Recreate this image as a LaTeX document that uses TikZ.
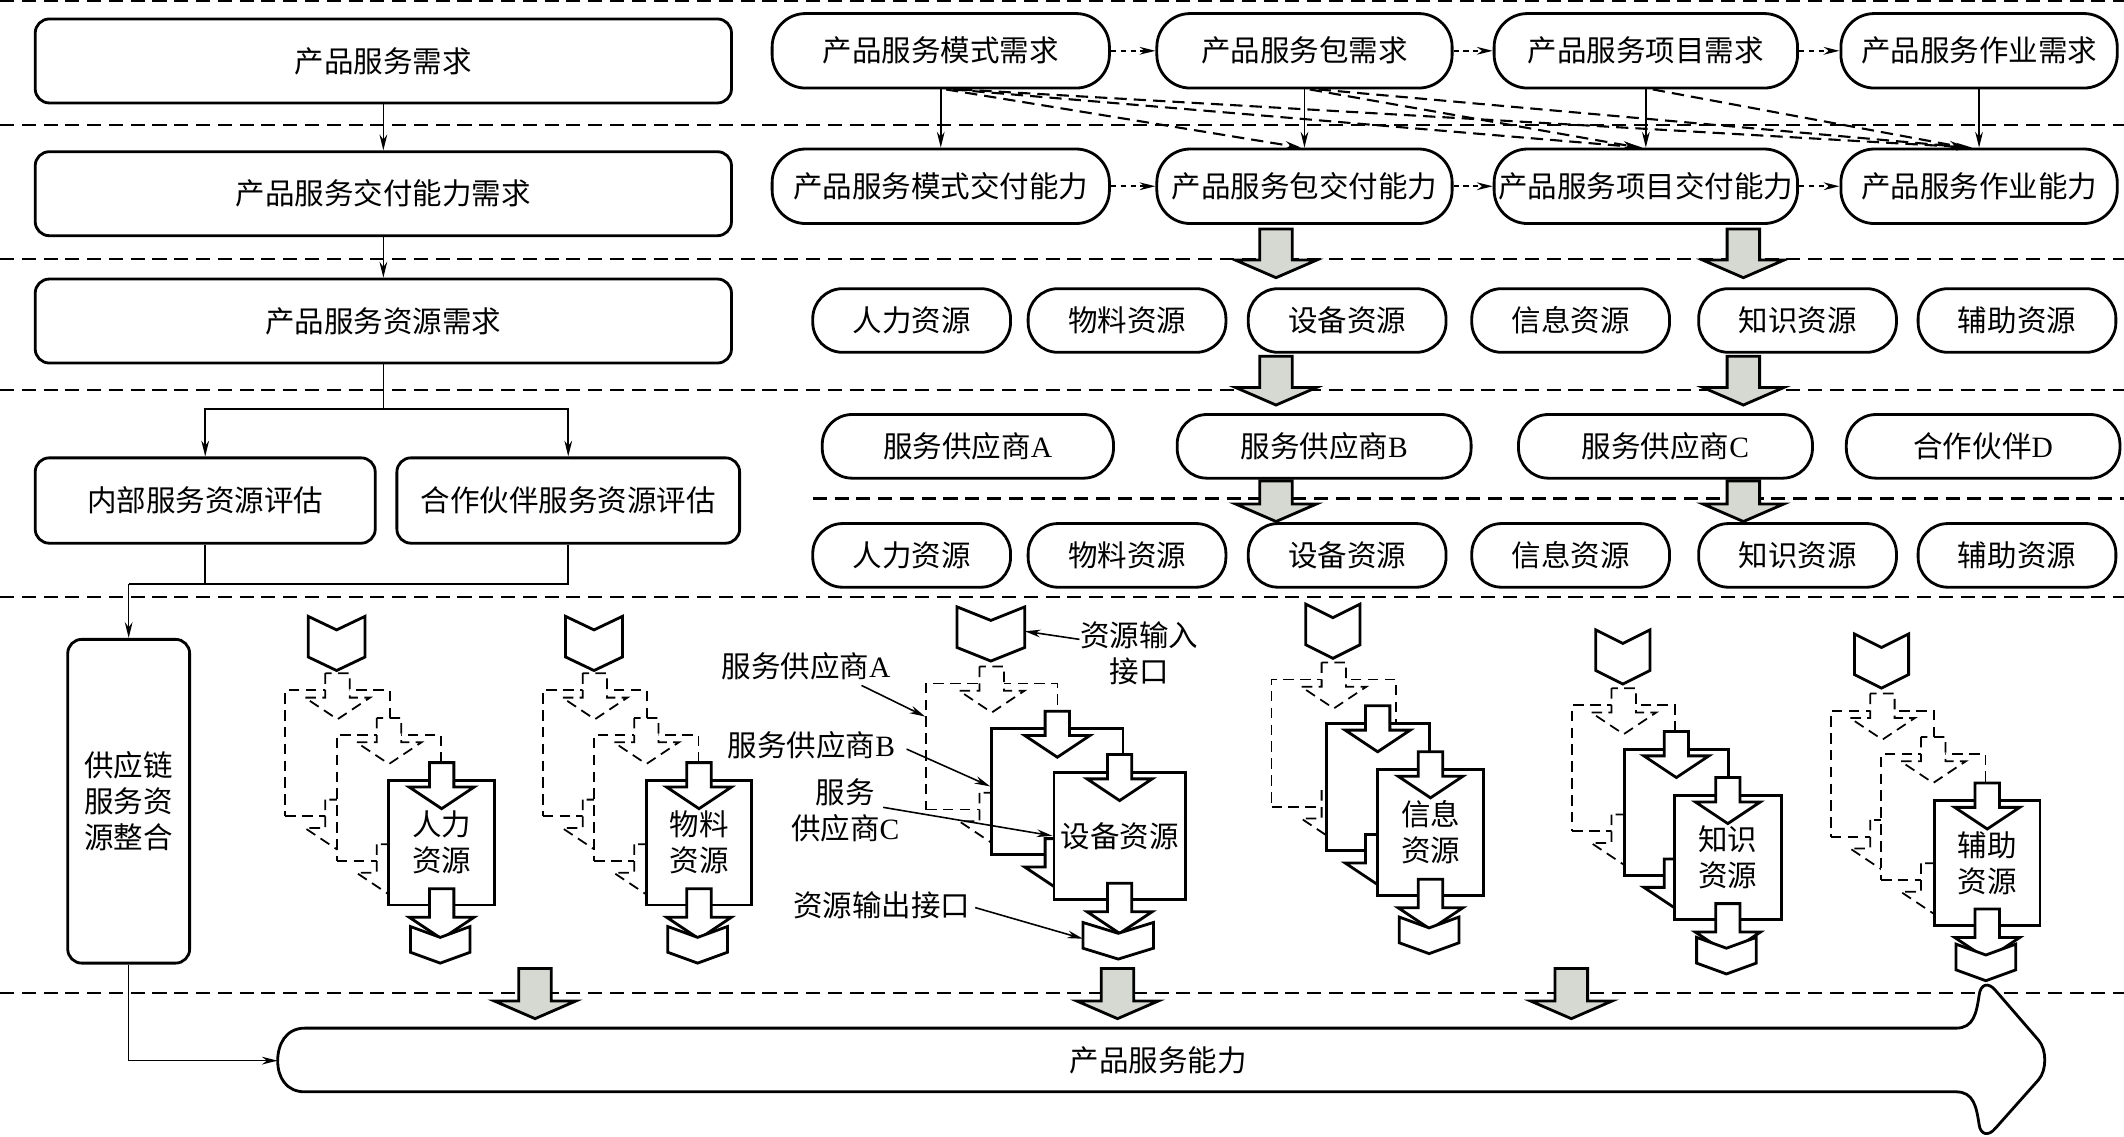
\documentclass[tikz,border=0pt]{standalone}
\usepackage{fontspec}
\setmainfont{Liberation Serif}
\newfontfamily\cjk{Noto Sans CJK SC}
\usetikzlibrary{arrows.meta,calc}
\newdimen\px \px=0.013546cm
\definecolor{BlockGray}{RGB}{214,217,209}
\newcommand\lat[1]{{\rmfamily #1}}

% small block arrow in and out of a resource sheet
\newcommand\docarrow[3][]{\draw[fill=white,#1] (#2) +(-9,0) -- +(-9,#3) -- +(-24,#3) -- +(0,#3+16) -- +(24,#3) -- +(9,#3) -- +(9,0) -- cycle;}
% one resource sheet: name, style, left, top, width, height, text
\newcommand\resdoc[7]{%
  \node[docbox,#2,minimum width=#5\px,minimum height=#6\px,anchor=north west] (#1) at (#3,#4) {#7};
  \docarrow[#2]{[shift={(0,-12)}]#1.north}{18}
  \docarrow[#2]{[shift={(0,-13)}]#1.south}{21}}
% input / output interfaces
\newcommand\chevin[4]{%
  \draw[chev] (#2-#4,#3) -- (#2,#3+10) -- (#2+#4,#3) -- (#2+#4,#3+30) -- (#2,#3+40) -- (#2-#4,#3+30) -- cycle;
  \coordinate (#1) at (#2+#4,#3+18);}
\newcommand\chevout[4]{%
  \draw[chev] (#2-#4,#3) -- (#2,#3+8) -- (#2+#4,#3) -- (#2+#4,#3+19) -- (#2,#3+27) -- (#2-#4,#3+19) -- cycle;
  \coordinate (#1) at (#2-#4,#3+12);}
% grey flow arrow
\newcommand\grayarrow[3]{\draw[garrow] (#1-12,#2) -- (#1-12,#2+#3-13) -- (#1-30,#2+#3-13) -- (#1,#2+#3) -- (#1+30,#2+#3-13) -- (#1+12,#2+#3-13) -- (#1+12,#2) -- cycle;}

\begin{document}
\begin{tikzpicture}[x=0.013546cm, y=-0.013546cm,
  every node/.style={font=\cjk\fontsize{8.4}{10.2}\selectfont, inner sep=0pt, align=center},
  box/.style={draw, line width=0.8pt, rounded corners=4pt},
  pill/.style={draw, line width=0.8pt, rounded corners=9.5pt, minimum height=55\px},
  respill/.style={draw, line width=0.8pt, rounded corners=8.5pt, minimum width=146\px, minimum height=47\px},
  supp/.style={draw, line width=0.8pt, rounded corners=8.5pt, minimum height=47\px},
  docbox/.style={draw, fill=white},
  soliddoc/.style={line width=0.8pt},
  dashdoc/.style={line width=0.5pt, dash pattern=on 3pt off 1.8pt},
  chev/.style={fill=white, line width=0.8pt, line join=miter},
  garrow/.style={fill=BlockGray, line width=0.8pt},
  sepline/.style={line width=0.6pt, dash pattern=on 4pt off 2.2pt},
  link/.style={line width=0.45pt, -{Stealth[length=4.5pt,width=2.2pt]}},
  dlink/.style={link, line width=0.6pt, dash pattern=on 3.5pt off 2pt},
  rowlink/.style={link, line width=0.6pt, dash pattern=on 1.5pt off 1.3pt}]
  \useasboundingbox (0,0) rectangle (1568,839);

  % layer lines
  \foreach \y in {1,92,191,288,441,733}
    \draw[sepline] (0,\y) -- (1568,\y);
  \draw[sepline] (600,368) -- (1568,368);

  % left column
  \node[box, minimum width=514\px, minimum height=62\px] (lreq) at (283,45) {产品服务需求};
  \node[box, minimum width=514\px, minimum height=62\px] (ldel) at (283,143) {产品服务交付能力需求};
  \node[box, minimum width=514\px, minimum height=62\px] (lres) at (283,237) {产品服务资源需求};
  \node[box, minimum width=251\px, minimum height=63\px] (linn) at (151.5,369.5) {内部服务资源评估};
  \node[box, minimum width=253\px, minimum height=63\px] (lpar) at (419.5,369.5) {合作伙伴服务资源评估};
  \node[box, minimum width=90\px, minimum height=239\px] (lsc) at (95,591.5) {供应链\\服务资\\源整合};

  \draw[link] (lreq) -- (ldel);
  \draw[link] (ldel) -- (lres);
  \coordinate (lsplit) at (283,302);
  \draw[line width=0.45pt] (lres.south) -- (lsplit);
  \draw[link] (lsplit) -| (linn.north);
  \draw[link] (lsplit) -| (lpar.north);
  \coordinate (lmerge) at (95,431);
  \draw[line width=0.45pt] (linn.south) |- (lmerge);
  \draw[line width=0.45pt] (lpar.south) |- (lmerge);
  \draw[link] (lmerge) -- (lsc.north);

  % demand and capability rows
  \node[pill, minimum width=249\px] (rmode) at (694.5,37.5) {产品服务模式需求};
  \node[pill, minimum width=218\px] (rpack) at (963,37.5) {产品服务包需求};
  \node[pill, minimum width=224\px] (rproj) at (1215,37.5) {产品服务项目需求};
  \node[pill, minimum width=204\px] (rtask) at (1461,37.5) {产品服务作业需求};
  \node[pill, minimum width=249\px] (cmode) at (694.5,137.5) {产品服务模式交付能力};
  \node[pill, minimum width=218\px] (cpack) at (963,137.5) {产品服务包交付能力};
  \node[pill, minimum width=224\px] (cproj) at (1215,137.5) {产品服务项目交付能力};
  \node[pill, minimum width=204\px] (ctask) at (1461,137.5) {产品服务作业能力};

  \draw[rowlink] (rmode) -- (rpack);
  \draw[rowlink] (rpack) -- (rproj);
  \draw[rowlink] (rproj) -- (rtask);
  \draw[rowlink] (cmode) -- (cpack);
  \draw[rowlink] (cpack) -- (cproj);
  \draw[rowlink] (cproj) -- (ctask);
  \draw[link] (rmode) -- (cmode);
  \draw[link] (rpack) -- (cpack);
  \draw[link] (rproj) -- (cproj);
  \draw[link] (rtask) -- (ctask);
  \draw[dlink] ([xshift=1.5pt]rmode.south) -- ([xshift=-1pt]cpack.north);
  \draw[dlink] ([xshift=3.5pt]rmode.south) -- ([xshift=-1pt]cproj.north);
  \draw[dlink] ([xshift=5.5pt]rmode.south) -- ([xshift=-2pt]ctask.north);
  \draw[dlink] ([xshift=1.5pt]rpack.south) -- ([xshift=-2pt]cproj.north);
  \draw[dlink] ([xshift=4pt]rpack.south) -- ([xshift=-3pt]ctask.north);
  \draw[dlink] ([xshift=2pt]rproj.south) -- ([xshift=-4pt]ctask.north);

  % resources and suppliers
  \foreach \n/\x/\t in {hum/673/人力资源, mat/832/物料资源, equ/994.5/设备资源,
                         inf/1159.5/信息资源, kno/1327/知识资源, aux/1489/辅助资源} {
    \node[respill] (ra\n) at (\x,236.6) {\t};
    \node[respill] (rb\n) at (\x,410) {\t};
  }
  \node[supp, minimum width=215\px] (supA) at (714.5,329.5) {服务供应商\lat{A}};
  \node[supp, minimum width=217\px] (supB) at (977.5,329.5) {服务供应商\lat{B}};
  \node[supp, minimum width=217\px] (supC) at (1229.5,329.5) {服务供应商\lat{C}};
  \node[supp, minimum width=202\px] (supD) at (1464,329.5) {合作伙伴\lat{D}};

  \grayarrow{942}{169}{36} \grayarrow{1287}{169}{36}
  \grayarrow{942}{263}{36} \grayarrow{1287}{263}{36}
  \grayarrow{942}{355}{30} \grayarrow{1287}{355}{30}
  \grayarrow{395}{715}{37} \grayarrow{825}{715}{37} \grayarrow{1160}{715}{37}

  % product service capability
  \draw[line width=0.8pt, fill=white] (225,759) -- (1444,759)
    .. controls (1457,759) and (1459,748) .. (1461,735)
    .. controls (1462,726) and (1468,725) .. (1473,731) -- (1505,768)
    .. controls (1511,775) and (1511,790) .. (1505,797) -- (1473,833)
    .. controls (1468,839) and (1462,838) .. (1461,830)
    .. controls (1459,817) and (1457,806) .. (1444,806) -- (225,806)
    .. controls (211,806) and (205,795) .. (205,783)
    .. controls (205,771) and (211,759) .. (225,759) -- cycle;
  \node (cap) at (855,783) {产品服务能力};
  \coordinate (capin) at (205,783);
  \draw[link] (lsc.south) |- (capin);

  % resource integration per type
  \chevin{g1in}{248.5}{455}{21}
  \resdoc{g1a}{dashdoc}{210}{509}{77}{93}{}
  \resdoc{g1b}{dashdoc}{248}{542}{77}{93}{}
  \resdoc{g1c}{soliddoc}{286}{575}{78}{92}{人力\\资源}
  \chevout{g1out}{325}{684}{22}

  \chevin{g2in}{438.5}{455}{21}
  \resdoc{g2a}{dashdoc}{400}{509}{77}{93}{}
  \resdoc{g2b}{dashdoc}{438}{542}{77}{93}{}
  \resdoc{g2c}{soliddoc}{476}{575}{78}{92}{物料\\资源}
  \chevout{g2out}{515}{684}{22}

  \chevin{g3in}{731.5}{448}{25}
  \resdoc{g3a}{dashdoc}{683}{504}{97}{93}{}
  \resdoc{g3b}{soliddoc}{731}{537}{97}{93}{}
  \resdoc{g3c}{soliddoc}{777}{569}{97}{94}{设备资源}
  \chevout{g3out}{825.5}{681}{26}

  \chevin{g4in}{984}{446}{20}
  \resdoc{g4a}{dashdoc}{938}{501}{92}{94}{}
  \resdoc{g4b}{soliddoc}{978}{533}{76}{94}{}
  \resdoc{g4c}{soliddoc}{1016}{567}{78}{93}{信息\\资源}
  \chevout{g4out}{1055}{677}{22}

  \chevin{g5in}{1198}{465}{20}
  \resdoc{g5a}{dashdoc}{1160}{520}{76}{93}{}
  \resdoc{g5b}{soliddoc}{1198}{552}{77}{93}{}
  \resdoc{g5c}{soliddoc}{1235}{586}{79}{92}{知识\\资源}
  \chevout{g5out}{1274.5}{692}{22}

  \chevin{g6in}{1389}{468}{20}
  \resdoc{g6a}{dashdoc}{1351}{524}{76}{93}{}
  \resdoc{g6b}{dashdoc}{1388}{556}{77}{93}{}
  \resdoc{g6c}{soliddoc}{1427}{590}{78}{92}{辅助\\资源}
  \chevout{g6out}{1466}{697}{22}

  % callouts
  \node (lblIn) at (841,482) {资源输入\\接口};
  \draw[link] ([shift={(0,-10)}]lblIn.west) -- (g3in);
  \node (lblA) at (595,492) {服务供应商\lat{A}};
  \draw[link] ([shift={(41,14)}]lblA.center) -- ([shift={(0,25)}]g3a.north west);
  \node (lblB) at (599,550) {服务供应商\lat{B}};
  \draw[link] ([shift={(8,3)}]lblB.east) -- ([shift={(0,-4)}]g3b.west);
  \node (lblC) at (624,598) {服务\\供应商\lat{C}};
  \draw[link] ([shift={(28,-2)}]lblC.center) -- (g3c.west);
  \node (lblOut) at (651,668) {资源输出接口};
  \draw[link] ([shift={(3,2)}]lblOut.east) -- (g3out);
\end{tikzpicture}
\end{document}
